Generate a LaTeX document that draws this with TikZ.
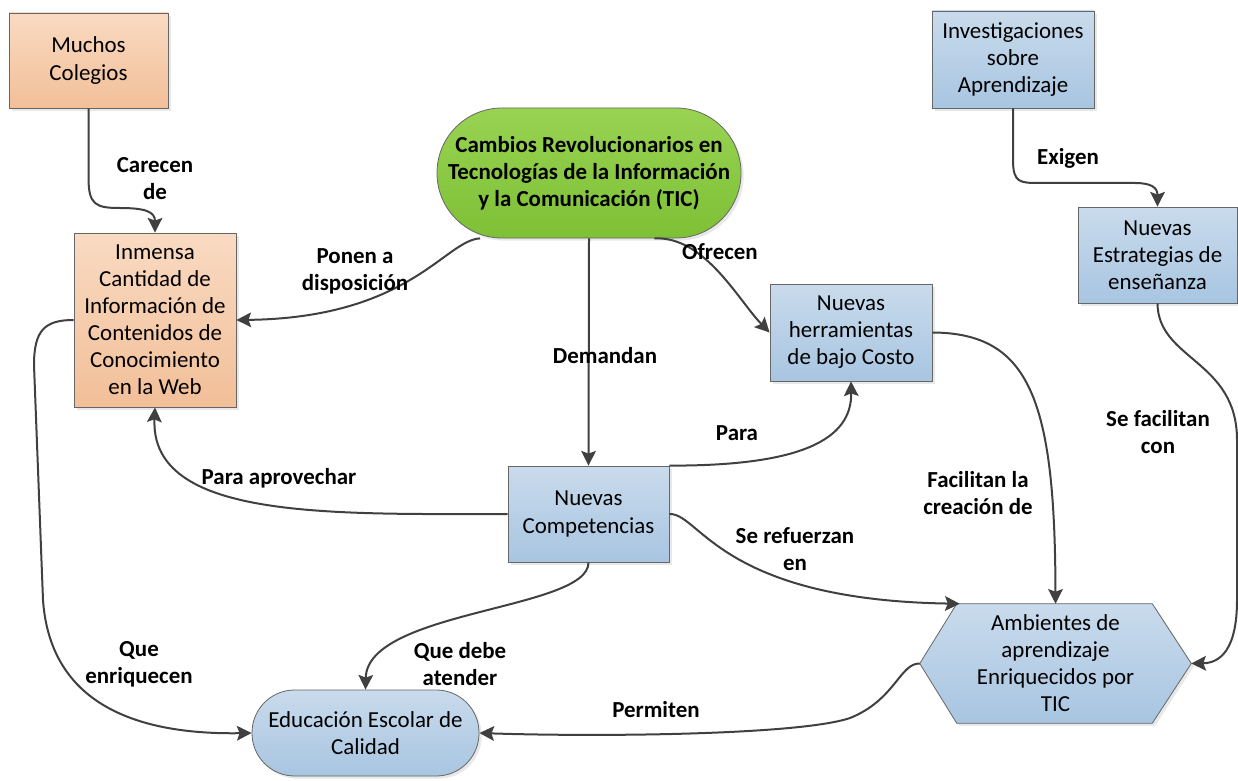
\documentclass[tikz,border=0pt]{standalone}
\usepackage{fontspec}
\setmainfont{Carlito}
\usetikzlibrary{arrows.meta,shadows,backgrounds,calc}

\definecolor{orTop}{RGB}{249,218,194}
\definecolor{orBot}{RGB}{242,191,152}
\definecolor{blTop}{RGB}{201,219,236}
\definecolor{blBot}{RGB}{168,197,225}
\definecolor{grTop}{RGB}{152,211,82}
\definecolor{grBot}{RGB}{126,192,54}
\definecolor{lineGr}{RGB}{64,64,64}

\tikzset{
  box/.style={draw=black!60, line width=0.6pt, align=center, inner sep=0pt,
    font=\fontsize{17.2}{20.3}\selectfont,
    drop shadow={shadow xshift=2pt, shadow yshift=-2pt, fill=black!18}},
  orbox/.style={box, top color=orTop, bottom color=orBot},
  blbox/.style={box, top color=blTop, bottom color=blBot},
  conn/.style={draw=lineGr, line width=1.5pt, -{Stealth[length=11pt,width=11pt,inset=2pt]}},
  lbl/.style={align=center, inner sep=0pt, font=\fontsize{17.2}{20.3}\selectfont\bfseries},
}

\begin{document}
\begin{tikzpicture}[x=0.75pt,y=0.75pt,yscale=-1,xscale=1]
\useasboundingbox (0,0) rectangle (1238,781);

% Shapes
\node[orbox, minimum width=119.25pt, minimum height=71.25pt] (mc) at (88.5,60.5) {Muchos\\Colegios};
\node[orbox, minimum width=121.5pt, minimum height=130.5pt] (ic) at (155,320) {Inmensa\\Cantidad de\\Información de\\Contenidos de\\Conocimiento\\en la Web};
\node[box, rounded corners=48.7pt, top color=grTop, bottom color=grBot, minimum width=228pt, minimum height=97.5pt, font=\fontsize{17.2}{20.3}\selectfont\bfseries] (cb) at (589,173) {Cambios Revolucionarios en\\Tecnologías de la Información\\y la Comunicación (TIC)};
\node[blbox, minimum width=121.5pt, minimum height=72.75pt] (nh) at (851,332.5) {Nuevas\\herramientas\\de bajo Costo};
\node[blbox, minimum width=121.5pt, minimum height=72.75pt] (ni) at (1013,59.5) {Investigaciones\\sobre\\Aprendizaje};
\node[blbox, minimum width=119.25pt, minimum height=72pt] (nes) at (1157.5,255) {Nuevas\\Estrategias de\\enseñanza};
\node[blbox, minimum width=120.75pt, minimum height=72pt] (nc) at (588.5,514) {Nuevas\\Competencias};
\node[blbox, rounded corners=32pt, minimum width=170.25pt, minimum height=64.5pt] (ee) at (365.5,733) {Educación Escolar de\\Calidad};
\node[align=center, inner sep=0pt, font=\fontsize{17.2}{20.3}\selectfont, minimum width=203.25pt, minimum height=89.25pt] (ae) at (1055.5,663.5) {Ambientes de\\aprendizaje\\Enriquecidos por\\TIC};

% hexagon behind the text
\begin{scope}[on background layer]
\path[top color=blTop, bottom color=blBot, draw=black!60, line width=0.6pt, drop shadow={shadow xshift=2pt, shadow yshift=-2pt, fill=black!18}] (ae.west) -- ($(ae.north west)+(37,0)$) -- ($(ae.north east)+(-39,0)$) -- (ae.east) -- ($(ae.south east)+(-39,0)$) -- ($(ae.south west)+(37,0)$) -- cycle;
\end{scope}
\coordinate (aenw) at ($(ae.north west)+(40,0)$);

% Connectors
\draw[conn] (mc.south) -- (88.5,178) .. controls (88.5,205) and (96,208) .. (120,208) .. controls (146,208) and (155,212) .. (ic.north);
\draw[conn] (cb.211) .. controls (445,240) and (410,318) .. (ic.east);
\draw[conn] (cb.south) -- (nc.north);
\draw[conn] (cb.-45) .. controls (705,236) and (738,300) .. (nh.west);
\draw[conn] (nc.north east) .. controls (800,466) and (852,440) .. (nh.south);
\draw[conn] (nc.west) .. controls (330,514) and (150,520) .. (ic.south);
\draw[conn] (nc.east) .. controls (700,513) and (720,600) .. (aenw);
\draw[conn] (nh.east) .. controls (1030,333) and (1055,400) .. (ae.north);
\draw[conn] (nes.south) .. controls (1158,360) and (1237,360) .. (1237,440) -- (1237,600) .. controls (1237,650) and (1220,663) .. (ae.east);
\draw[conn] (nc.south) .. controls (589,610) and (367,610) .. (ee.north);
\draw[conn] (ae.west) .. controls (900,663) and (895,700) .. (850,718) .. controls (800,735) and (600,737) .. (ee.east);
\draw[conn] (ic.west) .. controls (45,320) and (34,330) .. (34,365) -- (43,600) .. controls (50,700) and (130,735) .. (ee.west);
\draw[conn] (ni.south) -- (1013,160) .. controls (1013,183) and (1020,183) .. (1040,183) -- (1135,183) .. controls (1152,183) and (1157.5,188) .. (nes.north);

% Text Node
\node[lbl] (tcarecen) at (155,179) {Carecen\\de};
\node[lbl] (tponen) at (355,271.5) {Ponen a\\disposición};
\node[lbl] (tofrecen) at (720,252) {Ofrecen};
\node[lbl] (tdemandan) at (605,356) {Demandan};
\node[lbl] (taprov) at (279,478) {Para aprovechar};
\node[lbl] (tpara) at (737,433) {Para};
\node[lbl] (texigen) at (1068,158) {Exigen};
\node[lbl] (tfacilitan) at (978,493.5) {Facilitan la\\creación de};
\node[lbl] (tsefacil) at (1158,432.5) {Se facilitan\\con};
\node[lbl] (trefuerzan) at (795,549) {Se refuerzan\\en};
\node[lbl] (tatender) at (460,664) {Que debe\\atender};
\node[lbl] (tenriq) at (139,664) {Que\\enriquecen};
\node[lbl] (tpermiten) at (656,710) {Permiten};

\end{tikzpicture}
\end{document}
